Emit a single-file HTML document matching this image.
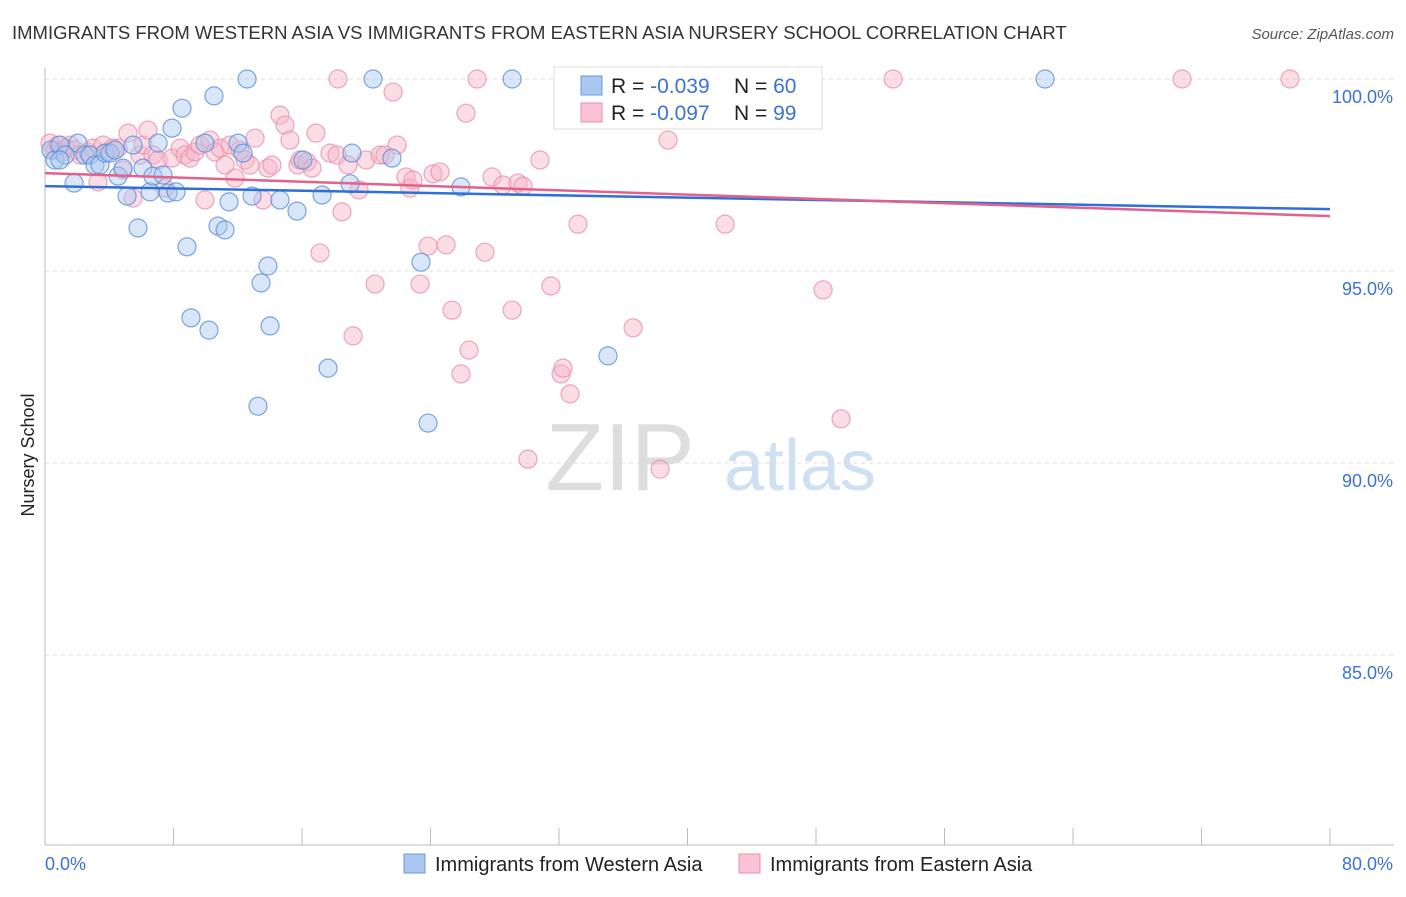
<!DOCTYPE html>
<html><head><meta charset="utf-8"><style>
body{margin:0;background:#fff;font-family:"Liberation Sans",sans-serif;}
svg text{font-family:"Liberation Sans",sans-serif;}
</style></head><body>
<svg id="chart" width="1406" height="892" xmlns="http://www.w3.org/2000/svg">
<text x="12" y="39" font-size="18.5" fill="#333">IMMIGRANTS FROM WESTERN ASIA VS IMMIGRANTS FROM EASTERN ASIA NURSERY SCHOOL CORRELATION CHART</text>
<text x="1394" y="39" font-size="15" fill="#555" text-anchor="end" font-style="italic">Source: ZipAtlas.com</text>
<text x="34" y="455" font-size="18" fill="#222" transform="rotate(-90 34 455)" text-anchor="middle">Nursery School</text>
<text x="620" y="490" font-size="96" fill="#ddd" font-family="Liberation Serif" text-anchor="middle">ZIP</text>
<text x="800" y="490" font-size="72" fill="#cfe0f3" text-anchor="middle">atlas</text>
<g id="grid"></g><g id="axes"></g><g id="pts"></g><g id="trend"></g>
<g>
<rect x="554" y="67" width="268" height="62" fill="#fff" stroke="#ddd"/>
<rect x="581" y="76" width="21" height="19" fill="#a9c7ef" stroke="#6b9ae0"/>
<rect x="581" y="103" width="21" height="19" fill="#f9c3d3" stroke="#e891ab"/>
<text x="611" y="93" font-size="21" fill="#222">R = <tspan fill="#3b73d1">-0.039</tspan></text>
<text x="734" y="93" font-size="21" fill="#222">N = <tspan fill="#3b73d1">60</tspan></text>
<text x="611" y="120" font-size="21" fill="#222">R = <tspan fill="#3b73d1">-0.097</tspan></text>
<text x="734" y="120" font-size="21" fill="#222">N = <tspan fill="#3b73d1">99</tspan></text>
</g>
<g>
<rect x="404" y="854" width="21" height="19" fill="#a9c7ef" stroke="#6b9ae0"/>
<text x="435" y="871" font-size="20" fill="#222">Immigrants from Western Asia</text>
<rect x="739" y="854" width="21" height="19" fill="#f9c3d3" stroke="#e891ab"/>
<text x="770" y="871" font-size="20" fill="#222">Immigrants from Eastern Asia</text>
</g>
</svg>
<script>
const yTicks=[100,95,90,85];
const xTickLabels=["0.0%","80.0%"];
const blueX=[0.37,0.62,0.93,1.25,1.81,2.05,2.49,2.80,3.11,3.42,3.74,4.05,4.36,4.55,4.86,5.11,5.48,5.79,6.10,6.54,6.72,7.04,7.35,7.66,7.91,8.16,8.53,8.84,9.09,10.21,10.52,9.96,10.77,11.21,11.46,12.02,12.33,12.58,12.89,13.26,13.45,13.88,14.01,14.63,15.69,16.06,17.25,17.62,18.99,19.11,20.42,21.60,23.41,23.85,25.90,29.08,35.05,42.34,62.26,0.93];
const blueY=[98.15,97.89,98.28,98.02,97.29,98.33,98.02,98.02,97.76,97.76,98.07,98.07,98.15,97.47,97.68,96.95,98.28,96.12,97.68,97.06,97.47,98.33,97.50,97.03,98.72,97.06,99.24,95.63,93.78,93.46,99.56,98.33,96.17,96.07,96.80,98.33,98.07,100,96.95,91.48,94.69,95.13,93.57,96.85,96.56,97.89,96.98,92.47,97.27,98.07,100,97.94,95.23,91.04,97.19,100,92.79,100,100,97.89];
const pinkX=[0.31,0.62,0.81,1.06,1.31,1.56,1.87,2.18,2.68,2.99,3.30,3.61,3.92,4.23,4.55,4.86,5.17,5.48,5.91,6.10,6.41,6.72,7.04,7.47,7.91,8.41,8.72,9.03,9.34,9.65,9.96,10.27,10.58,10.90,11.21,11.52,11.83,12.14,12.45,12.76,13.08,13.57,13.88,14.13,14.63,14.94,15.25,15.75,15.88,16.31,16.62,16.87,17.12,17.74,18.18,18.49,18.86,19.18,19.55,19.99,20.55,20.86,21.17,21.67,21.92,22.48,22.72,22.91,23.35,23.85,24.16,24.59,24.97,25.34,25.90,26.21,26.40,27.39,27.83,28.51,29.08,29.45,29.76,30.07,30.82,31.50,32.13,32.25,32.69,33.18,36.61,38.29,38.79,42.34,48.44,49.56,52.80,70.79,77.51];
const pinkY=[98.33,98.15,98.28,98.10,98.20,98.28,98.15,98.02,98.10,98.20,97.32,98.28,98.10,98.20,98.20,97.63,98.59,96.90,98.02,98.28,98.67,98.02,97.89,97.16,97.94,98.20,98.02,97.94,98.10,98.28,96.85,98.41,98.10,98.20,97.76,98.28,97.42,98.15,97.89,97.76,98.46,96.85,97.68,97.76,99.06,98.80,98.41,97.76,97.89,97.84,97.68,98.59,95.47,98.07,98.02,96.54,97.76,93.31,97.11,97.89,94.66,98.02,98.02,99.66,98.28,97.45,97.16,97.37,94.66,95.65,97.53,97.58,95.68,93.98,92.32,99.11,92.94,95.49,97.45,97.24,93.98,97.29,97.21,90.10,97.89,94.61,92.32,92.47,91.80,96.22,93.52,89.84,98.41,96.22,94.51,91.15,100,100,100];
const extraPinkX=[18.24,26.90,37.67];
const extraPinkY=[100,100,100];
const blueTrend=[97.21,96.61];
const pinkTrend=[97.55,96.43];
const NS="http://www.w3.org/2000/svg";
const X=v=>45+v/80*1285;
const Y=v=>79+(100-v)*38.4;
function mk(tag,attrs,parent){const e=document.createElementNS(NS,tag);for(const k in attrs)e.setAttribute(k,attrs[k]);document.getElementById(parent).appendChild(e);return e;}
yTicks.forEach(t=>{
 const l=mk('line',{x1:45,x2:1394,y1:Y(t),y2:Y(t),stroke:'#ddd','stroke-dasharray':'4,4'},'grid');
 
 
 const tx=mk('text',{x:1393,y:Y(t)+24,'font-size':18,fill:'#3b73d1','text-anchor':'end'},'grid');
 tx.textContent=t.toFixed(1)+'%';
 
 
});
const ax=mk('line',{x1:45,x2:45,y1:68,y2:845,stroke:'#bbb'},'axes');


const bx=mk('line',{x1:45,x2:1394,y1:845,y2:845,stroke:'#bbb'},'axes');


for(let i=1;i<=10;i++){const t=mk('line',{x1:X(i*8),x2:X(i*8),y1:828,y2:845,stroke:'#bbb'},'axes');
 
 }
const xl0=mk('text',{x:45,y:870,'font-size':18,fill:'#3b73d1'},'axes');xl0.textContent=xTickLabels[0];


const xl1=mk('text',{x:1393,y:870,'font-size':18,fill:'#3b73d1','text-anchor':'end'},'axes');xl1.textContent=xTickLabels[1];


function dots(xs,ys,fill,stroke,name){xs.forEach((x,i)=>{const c=mk('circle',{cx:X(x),cy:Y(ys[i]),r:9,fill:fill,'fill-opacity':0.45,stroke:stroke,'stroke-width':1.2,'stroke-opacity':0.8},'pts');
 
 });}
dots(pinkX,pinkY,'#f7b3c8','#e891ab','eastern-asia-point');
dots(extraPinkX,extraPinkY,'#f7b3c8','#e891ab','eastern-asia-point');
dots(blueX,blueY,'#a9c7ef','#5b8fd9','western-asia-point');
const tb=mk('line',{x1:X(0),x2:X(80),y1:Y(blueTrend[0]),y2:Y(blueTrend[1]),stroke:'#2f6fd6','stroke-width':2.5},'trend');


const tp=mk('line',{x1:X(0),x2:X(80),y1:Y(pinkTrend[0]),y2:Y(pinkTrend[1]),stroke:'#e2628c','stroke-width':2.5},'trend');


</script>
</body></html>
